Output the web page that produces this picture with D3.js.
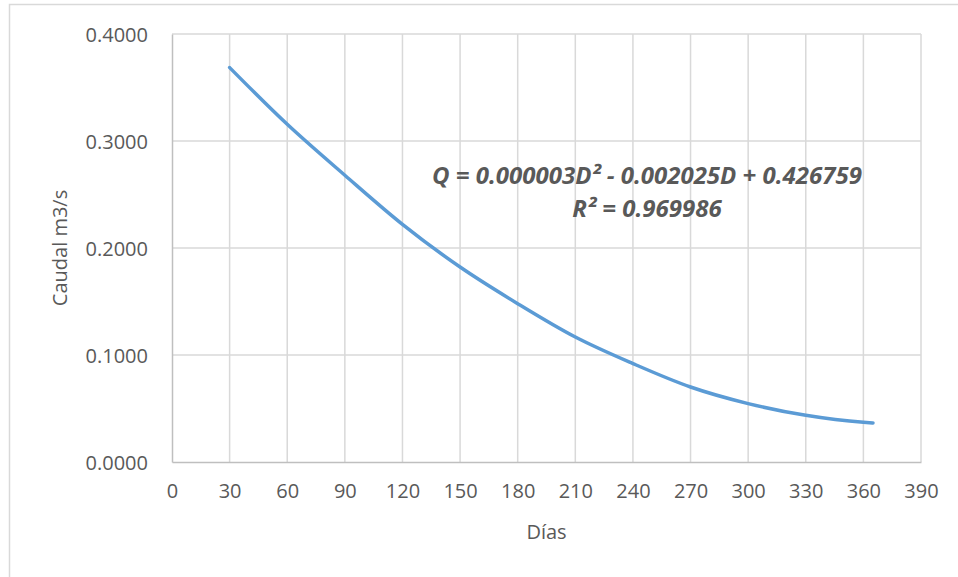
<!DOCTYPE html>
<html>
<head>
<meta charset="utf-8">
<script src="https://cdn.jsdelivr.net/npm/d3@7"></script>
<style>
  body { margin: 0; background: #fff; }
  text { font-family: "Open Sans", "Noto Sans", sans-serif; fill: #595959; }
</style>
</head>
<body>
<svg id="chart" width="958" height="577"></svg>
<script>
// values
const dias = [30, 60, 90, 120, 150, 180, 210, 240, 270, 300, 330, 360, 365];
const caudal = [0.3686, 0.3156, 0.2680, 0.2221, 0.1822, 0.1480, 0.1168, 0.0920, 0.0701, 0.0546, 0.0436, 0.0371, 0.0365];
const xTicks = d3.range(0, 391, 30);
const yTicks = [0, 0.1, 0.2, 0.3, 0.4];
const ecuacion = ["Q = 0.000003D² - 0.002025D + 0.426759", "R² = 0.969986"];

var svg = d3.select("#chart"),
    margin = {top: 34, right: 37, bottom: 115, left: 172},
    width = +svg.attr("width"),
    height = +svg.attr("height");

// chart frame
svg.append("rect")
    .attr("x", 9.5).attr("y", 4.5)
    .attr("width", width + 20).attr("height", height + 20)
    .attr("fill", "none")
    .attr("stroke", "#d9d9d9")
    .attr("stroke-width", 1.5);

var x = d3.scaleLinear()
    .domain([0, 390])
    .range([margin.left, width - margin.right]);

var y = d3.scaleLinear()
    .domain([0, 0.4])
    .range([height - margin.bottom, margin.top]);

// gridlines
svg.append("g")
    .selectAll("line")
    .data(xTicks.slice(1))
    .enter().append("line")
    .attr("x1", d => x(d)).attr("x2", d => x(d))
    .attr("y1", y(0.4)).attr("y2", y(0))
    .attr("stroke", "#d9d9d9").attr("stroke-width", 1.5);

svg.append("g")
    .selectAll("line")
    .data(yTicks.slice(1))
    .enter().append("line")
    .attr("x1", x(0)).attr("x2", x(390))
    .attr("y1", d => y(d)).attr("y2", d => y(d))
    .attr("stroke", "#d9d9d9").attr("stroke-width", 1.5);

// axes
var xAxis = svg.append("g")
    .attr("transform", "translate(0," + y(0) + ")")
    .call(d3.axisBottom(x).tickValues(xTicks).tickSize(0).tickPadding(22));

var yAxis = svg.append("g")
    .attr("transform", "translate(" + x(0) + ",0)")
    .call(d3.axisLeft(y).tickValues(yTicks).tickSize(0).tickPadding(24).tickFormat(d3.format(".4f")));

[xAxis, yAxis].forEach(function(a) {
    a.select(".domain").attr("stroke", "#bfbfbf").attr("stroke-width", 1.5);
    a.selectAll("text").attr("font-size", 20).attr("fill", "#595959")
        .attr("font-family", "'Open Sans', sans-serif");
});
yAxis.selectAll("text").attr("dy", "0.35em");

// curve
var line = d3.line()
    .curve(d3.curveMonotoneX)
    .x((d, i) => x(dias[i]))
    .y(d => y(d));

svg.append("path")
    .datum(caudal)
    .attr("fill", "none")
    .attr("stroke", "#5b9bd5")
    .attr("stroke-width", 3.5)
    .attr("stroke-linecap", "round")
    .attr("d", line);

// trendline label
svg.append("g")
    .selectAll("text")
    .data(ecuacion)
    .enter().append("text")
    .attr("x", 647)
    .attr("y", (d, i) => 184 + i * 33)
    .attr("text-anchor", "middle")
    .attr("font-size", 24)
    .attr("font-weight", "bold")
    .attr("font-style", "italic")
    .text(d => d);

// axis titles
svg.append("text")
    .attr("x", (x(0) + x(390)) / 2)
    .attr("y", 539)
    .attr("text-anchor", "middle")
    .attr("font-size", 20)
    .text("Días");

svg.append("text")
    .attr("transform", "translate(67," + (y(0) + y(0.4)) / 2 + ") rotate(-90)")
    .attr("text-anchor", "middle")
    .attr("font-size", 20)
    .text("Caudal m3/s");
</script>
</body>
</html>
